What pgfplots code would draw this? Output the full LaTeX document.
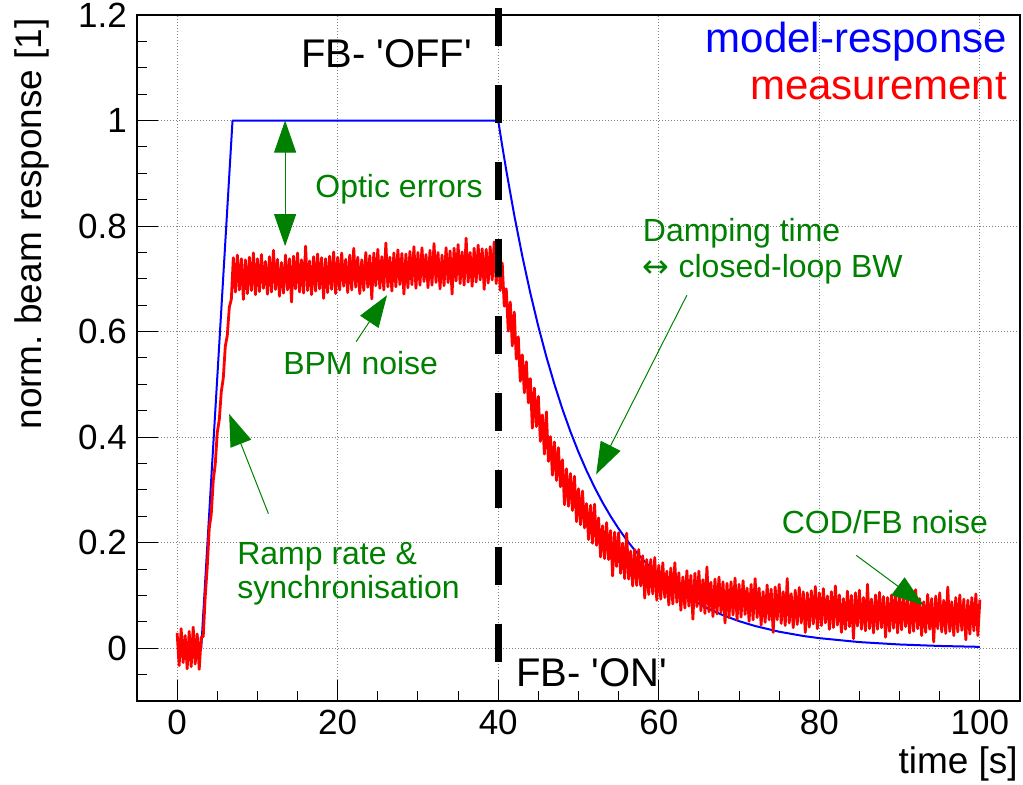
\documentclass[border=0pt]{standalone}
\usepackage{fontspec}
\setmainfont{Liberation Sans}
\newfontfamily\djv{DejaVu Sans}
\usepackage{pgfplots}
\pgfplotsset{compat=1.18}
\usetikzlibrary{arrows.meta}
\definecolor{rgreen}{RGB}{0,128,0}
\definecolor{rblue}{RGB}{0,0,255}
\definecolor{rred}{RGB}{255,0,0}
\begin{document}
\begin{tikzpicture}
\begin{axis}[
  scale only axis, width=883bp, height=686bp,
  xmin=-5, xmax=105, ymin=-0.1, ymax=1.2,
  xtick={0,20,40,60,80,100},
  minor xtick={5,10,15,25,30,35,45,50,55,65,70,75,85,90,95},
  ytick={0,0.2,0.4,0.6,0.8,1,1.2},
  minor ytick={-0.05,0.05,0.1,0.15,0.25,0.3,0.35,0.45,0.5,0.55,0.65,0.7,0.75,0.85,0.9,0.95,1.05,1.1,1.15},
  xtick pos=bottom, ytick pos=left,
  tick align=inside,
  major tick length=21bp, minor tick length=10.5bp,
  tick style={black, line width=1bp},
  grid=major,
  major grid style={gray, line width=0.8bp, dash pattern=on 1bp off 2bp},
  axis line style={line width=1.3bp},
  /pgf/number format/assume math mode=true,
  ticklabel style={font=\fontsize{35bp}{42bp}\selectfont, inner sep=0pt},
  xticklabel style={anchor=north, yshift=-9bp},
  yticklabel style={anchor=east, xshift=-10bp},
  xlabel={time [s]},
  ylabel={norm.\ beam response [1]},
  label style={font=\fontsize{37bp}{44bp}\selectfont, inner sep=0pt},
  xlabel style={at={(axis description cs:0.9977,-0.1064)}, anchor=base east},
  ylabel style={at={(axis description cs:-0.1076,0.9956)}, anchor=base east},
  clip=false,
]
% model response
\addplot[rblue, line width=2bp, line join=round] coordinates {
(0,0) (3,0) (6.9,1) (40,1) (40.5,0.9517) (41,0.9058) (42,0.8204) (43,0.7431) (44,0.6730) (45,0.6096)
(46,0.5522) (47,0.5002) (48,0.4530) (49,0.4103) (50,0.3716) (51,0.3366) (52,0.3049) (53,0.2761)
(54,0.2501) (55,0.2265) (56,0.2052) (57,0.1858) (58,0.1683) (59,0.1525) (60,0.1381) (62,0.1133)
(64,0.0930) (66,0.0762) (68,0.0626) (70,0.0513) (72,0.0421) (75,0.0313) (78,0.0232) (80,0.0191)
(85,0.0116) (90,0.0071) (95,0.0043) (100,0.0026)
};
% measurement
\addplot[rred, line width=2.8bp, line join=round] coordinates {
(0,0.029) (0.25,-0.033) (0.5,0.037) (0.75,-0.027) (1,0.024) (1.25,-0.039) (1.5,0.032) (1.75,-0.035)
(2,0.040) (2.25,-0.030) (2.5,0.027) (2.75,-0.040) (3,0.021) (3.25,0.022) (3.5,0.098) (3.75,0.154)
(4,0.227) (4.25,0.254) (4.5,0.318) (4.75,0.349) (5,0.409) (5.25,0.433) (5.5,0.486) (5.75,0.512)
(6,0.572) (6.25,0.593) (6.5,0.646) (6.75,0.661) (7,0.740) (7.25,0.675) (7.5,0.745) (7.75,0.679)
(8,0.738) (8.25,0.661) (8.5,0.736) (8.75,0.672) (9,0.741) (9.25,0.678) (9.5,0.749) (9.75,0.670)
(10,0.738) (10.25,0.676) (10.5,0.746) (10.75,0.682) (11,0.733) (11.25,0.671) (11.5,0.742) (11.75,0.675)
(12,0.754) (12.25,0.680) (12.5,0.737) (12.75,0.667) (13,0.731) (13.25,0.673) (13.5,0.745) (13.75,0.679)
(14,0.738) (14.25,0.656) (14.5,0.743) (14.75,0.681) (15,0.749) (15.25,0.675) (15.5,0.736) (15.75,0.673)
(16,0.762) (16.25,0.678) (16.5,0.734) (16.75,0.670) (17,0.742) (17.25,0.677) (17.5,0.747) (17.75,0.681)
(18,0.740) (18.25,0.663) (18.5,0.738) (18.75,0.674) (19,0.743) (19.25,0.680) (19.5,0.751) (19.75,0.672)
(20,0.741) (20.25,0.679) (20.5,0.749) (20.75,0.686) (21,0.737) (21.25,0.674) (21.5,0.745) (21.75,0.679)
(22,0.758) (22.25,0.684) (22.5,0.741) (22.75,0.672) (23,0.736) (23.25,0.678) (23.5,0.750) (23.75,0.684)
(24,0.744) (24.25,0.662) (24.5,0.749) (24.75,0.687) (25,0.756) (25.25,0.682) (25.5,0.742) (25.75,0.679)
(26,0.768) (26.25,0.685) (26.5,0.741) (26.75,0.677) (27,0.749) (27.25,0.685) (27.5,0.755) (27.75,0.689)
(28,0.748) (28.25,0.671) (28.5,0.747) (28.75,0.683) (29,0.752) (29.25,0.689) (29.5,0.761) (29.75,0.682)
(30,0.750) (30.25,0.688) (30.5,0.759) (30.75,0.695) (31,0.746) (31.25,0.683) (31.5,0.754) (31.75,0.688)
(32,0.767) (32.25,0.693) (32.5,0.750) (32.75,0.681) (33,0.745) (33.25,0.687) (33.5,0.759) (33.75,0.693)
(34,0.753) (34.25,0.671) (34.5,0.758) (34.75,0.696) (35,0.765) (35.25,0.691) (35.5,0.751) (35.75,0.688)
(36,0.777) (36.25,0.694) (36.5,0.750) (36.75,0.686) (37,0.758) (37.25,0.694) (37.5,0.764) (37.75,0.698)
(38,0.757) (38.25,0.680) (38.5,0.756) (38.75,0.692) (39,0.761) (39.25,0.698) (39.5,0.770) (39.75,0.691)
(40,0.759) (40.25,0.678) (40.5,0.730) (40.75,0.648) (41,0.681) (41.25,0.601) (41.5,0.656) (41.75,0.573)
(42,0.637) (42.25,0.548) (42.5,0.590) (42.75,0.506) (43,0.556) (43.25,0.484) (43.5,0.543) (43.75,0.465)
(44,0.511) (44.25,0.417) (44.5,0.493) (44.75,0.420) (45,0.477) (45.25,0.392) (45.5,0.442) (45.75,0.368)
(46,0.448) (46.25,0.354) (46.5,0.401) (46.75,0.328) (47,0.391) (47.25,0.318) (47.5,0.380) (47.75,0.306)
(48,0.357) (48.25,0.272) (48.5,0.340) (48.75,0.269) (49,0.331) (49.25,0.261) (49.5,0.326) (49.75,0.240)
(50,0.302) (50.25,0.234) (50.5,0.298) (50.75,0.228) (51,0.274) (51.25,0.206) (51.5,0.271) (51.75,0.199)
(52,0.273) (52.25,0.195) (52.5,0.247) (52.75,0.173) (53,0.232) (53.25,0.170) (53.5,0.238) (53.75,0.168)
(54,0.223) (54.25,0.137) (54.5,0.220) (54.75,0.155) (55,0.219) (55.25,0.142) (55.5,0.199) (55.75,0.132)
(56,0.218) (56.25,0.131) (56.5,0.184) (56.75,0.118) (57,0.187) (57.25,0.119) (57.5,0.187) (57.75,0.118)
(58,0.175) (58.25,0.095) (58.5,0.168) (58.75,0.102) (59,0.168) (59.25,0.103) (59.5,0.172) (59.75,0.091)
(60,0.157) (60.25,0.093) (60.5,0.162) (60.75,0.096) (61,0.146) (61.25,0.082) (61.5,0.152) (61.75,0.084)
(62,0.162) (62.25,0.087) (62.5,0.143) (62.75,0.072) (63,0.135) (63.25,0.076) (63.5,0.147) (63.75,0.080)
(64,0.138) (64.25,0.055) (64.5,0.142) (64.75,0.079) (65,0.146) (65.25,0.071) (65.5,0.130) (65.75,0.066)
(66,0.154) (66.25,0.069) (66.5,0.125) (66.75,0.060) (67,0.131) (67.25,0.065) (67.5,0.135) (67.75,0.068)
(68,0.126) (68.25,0.048) (68.5,0.123) (68.75,0.058) (69,0.126) (69.25,0.063) (69.5,0.133) (69.75,0.054)
(70,0.121) (70.25,0.059) (70.5,0.128) (70.75,0.064) (71,0.114) (71.25,0.051) (71.5,0.121) (71.75,0.054)
(72,0.132) (72.25,0.058) (72.5,0.114) (72.75,0.044) (73,0.107) (73.25,0.049) (73.5,0.120) (73.75,0.054)
(74,0.112) (74.25,0.030) (74.5,0.116) (74.75,0.054) (75,0.121) (75.25,0.047) (75.5,0.107) (75.75,0.043)
(76,0.132) (76.25,0.048) (76.5,0.103) (76.75,0.039) (77,0.110) (77.25,0.045) (77.5,0.115) (77.75,0.048)
(78,0.107) (78.25,0.030) (78.5,0.105) (78.75,0.040) (79,0.109) (79.25,0.046) (79.5,0.117) (79.75,0.037)
(80,0.105) (80.25,0.043) (80.5,0.113) (80.75,0.048) (81,0.099) (81.25,0.036) (81.5,0.107) (81.75,0.039)
(82,0.118) (82.25,0.044) (82.5,0.101) (82.75,0.030) (83,0.094) (83.25,0.036) (83.5,0.108) (83.75,0.041)
(84,0.100) (84.25,0.018) (84.5,0.105) (84.75,0.042) (85,0.110) (85.25,0.036) (85.5,0.096) (85.75,0.033)
(86,0.121) (86.25,0.037) (86.5,0.093) (86.75,0.029) (87,0.101) (87.25,0.036) (87.5,0.106) (87.75,0.039)
(88,0.098) (88.25,0.021) (88.5,0.096) (88.75,0.032) (89,0.101) (89.25,0.038) (89.5,0.108) (89.75,0.029)
(90,0.097) (90.25,0.035) (90.5,0.105) (90.75,0.041) (91,0.092) (91.25,0.029) (91.5,0.099) (91.75,0.032)
(92,0.111) (92.25,0.037) (92.5,0.094) (92.75,0.024) (93,0.088) (93.25,0.030) (93.5,0.102) (93.75,0.036)
(94,0.094) (94.25,0.012) (94.5,0.099) (94.75,0.037) (95,0.105) (95.25,0.031) (95.5,0.091) (95.75,0.028)
(96,0.116) (96.25,0.032) (96.5,0.088) (96.75,0.024) (97,0.096) (97.25,0.031) (97.5,0.101) (97.75,0.034)
(98,0.093) (98.25,0.016) (98.5,0.091) (98.75,0.027) (99,0.096) (99.25,0.033) (99.5,0.103) (99.75,0.024) (100,0.092)
};
% texts
\node[anchor=base west, inner sep=0pt, font=\fontsize{40bp}{48bp}\selectfont] at (axis cs:15.44,1.100) {FB- \textquotesingle OFF\textquotesingle};
\node[anchor=base west, inner sep=0pt, font=\fontsize{40bp}{48bp}\selectfont] at (axis cs:42.2,-0.072) {FB- \textquotesingle ON\textquotesingle};
\node[anchor=base east, inner sep=0pt, text=rblue, font=\fontsize{42bp}{50bp}\selectfont] at (axis cs:103.4,1.129) {model-response};
\node[anchor=base east, inner sep=0pt, text=rred, font=\fontsize{42bp}{50bp}\selectfont] at (axis cs:103.4,1.040) {measurement};
\begin{scope}[every node/.style={anchor=base west, inner sep=0pt, text=rgreen, font=\fontsize{32bp}{38bp}\selectfont}]
\node at (axis cs:17.2,0.854) {Optic errors};
\node at (axis cs:13.2,0.519) {BPM noise};
\node at (axis cs:7.47,0.159) {Ramp rate \&};
\node at (axis cs:7.47,0.0947) {synchronisation};
\node at (axis cs:58,0.771) {Damping time};
\node at (axis cs:58,0.703) {{\djv ↔} closed-loop BW};
\node at (axis cs:75.3,0.218) {COD/FB noise};
\end{scope}
% arrows
\begin{scope}[rgreen, line width=1bp, >={Triangle[length=32bp, width=22bp]}]
\draw[<->] (axis cs:13.45,0.762) -- (axis cs:13.45,1.0);
\draw[->] (axis cs:22.3,0.581) -- (axis cs:26.15,0.669);
\draw[->] (axis cs:11.37,0.255) -- (axis cs:6.48,0.444);
\draw[->] (axis cs:63.5,0.669) -- (axis cs:52.2,0.3295);
\draw[->] (axis cs:84.6,0.176) -- (axis cs:93.0,0.0814);
\end{scope}
% FB switch line
\draw[black, line width=7bp, dash pattern=on 38.5bp off 38.5bp] (axis cs:40,1.214) -- (axis cs:40,-0.1);
\end{axis}
\pgfresetboundingbox
\path[use as bounding box] ([shift={(-137bp,-84bp)}]current axis.south west) rectangle ([shift={(3bp,15bp)}]current axis.north east);
\end{tikzpicture}
\end{document}
